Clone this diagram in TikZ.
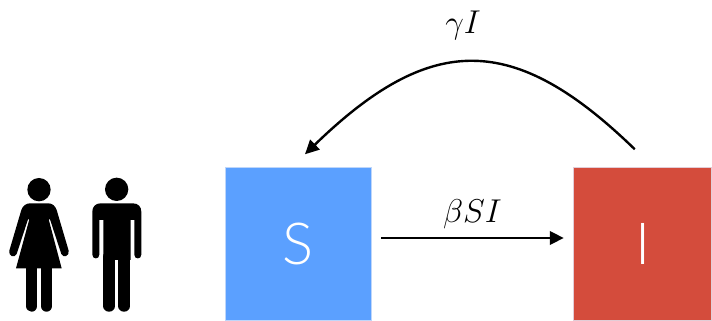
\documentclass[tikz,border=0pt]{standalone}
\usepackage{fix-cm}
\usepackage{amsmath,amssymb}
\usepackage{fontspec}
\usepackage{tikz}
\usetikzlibrary{arrows.meta,positioning}
\newfontfamily\boxfont{Lato Light}
\definecolor{sblue}{RGB}{91,160,255}
\definecolor{sedge}{RGB}{190,214,250}
\definecolor{ired}{RGB}{212,76,60}
\definecolor{iedge}{RGB}{226,205,215}

\begin{document}
\begin{tikzpicture}[
  x=1pt, y=1pt,
  box/.style={rectangle, line width=1pt, outer sep=0pt, inner sep=0pt,
    minimum height=153.5pt, text=white, font=\boxfont\fontsize{58}{60}\selectfont},
  arr/.style={-{Triangle[length=14pt,width=13.5pt]}, line width=2.4pt},
  rate/.style={font=\fontsize{33}{36}\selectfont},
  person/.style={fill=black, draw=none},
  limb/.style={black, line width=11.5pt, line cap=round}
]
\useasboundingbox (0,0) rectangle (712,321);
\node[box, fill=sblue, draw=sedge, minimum width=145.5pt] (S) at (298.5,77) {S};
\node[box, fill=ired, draw=iedge, minimum width=138pt, right=202.5pt of S] (I) {I};
\draw[arr, shorten <=10pt, shorten >=10pt] ([yshift=6pt]S.east) -- node[rate, above=5pt] (bsi) {$\beta SI$} ([yshift=6pt]I.west);
\draw[arr] ([xshift=-8pt,yshift=18pt]I.north) .. controls (514,289) and (431,289) .. ([xshift=6.5pt,yshift=13pt]S.north);
\node[rate] (gi) at (463,296) {$\gamma I$};
% people
\begin{scope}[shift={(0,161)}, x=0.3333pt, y=-0.3333pt]
\fill[person] (117,89) circle (35);
\fill[person] (350,88) circle (35);
\fill[person] (90,130) -- (145,130) .. controls (157,130) and (166,138) .. (170,150) -- (206,272)
  .. controls (209,288) and (190,296) .. (184,282) -- (150,178) -- (146,178) -- (185,325)
  -- (48,325) -- (88,178) -- (84,178) -- (50,282) .. controls (43,296) and (24,288) .. (28,272)
  -- (64,150) .. controls (68,138) and (78,130) .. (90,130) -- cycle;
\draw[limb] (95,325) -- (95,438);
\draw[limb] (139.5,325) -- (139.5,438);
\fill[person] (302,130) -- (399,130) .. controls (414,130) and (424,140) .. (424,155) -- (424,284)
  .. controls (424,299) and (403,299) .. (403,284) -- (403,180) -- (392,180) -- (392,300)
  -- (310,300) -- (310,180) -- (298,180) -- (298,284) .. controls (298,299) and (277,299) .. (277,284)
  -- (277,155) .. controls (277,140) and (287,130) .. (302,130) -- cycle;
\draw[limb] (327.5,290) -- (327.5,438);
\draw[limb] (372.5,290) -- (372.5,438);
\end{scope}
\end{tikzpicture}
\end{document}
